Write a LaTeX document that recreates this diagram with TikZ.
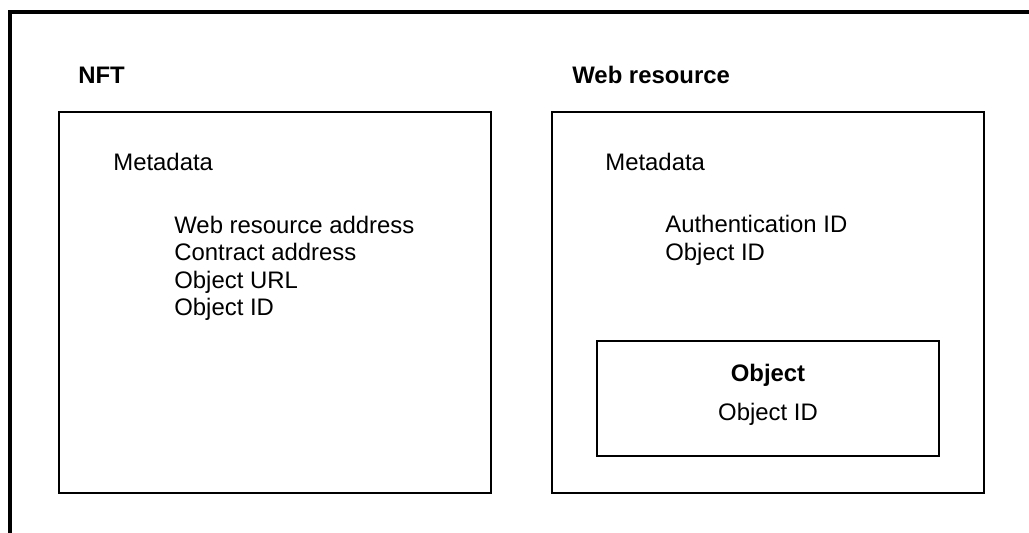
\documentclass[tikz,border=0pt]{standalone}
\usepackage{fontspec}
\setmainfont{Liberation Sans}
\usepackage{tikz}
\usetikzlibrary{positioning}

\begin{document}
\begin{tikzpicture}[x=0.02cm,y=-0.02cm,
    txt/.style={anchor=base west,inner sep=0pt,font=\fontsize{13.6}{16}\selectfont},
    hdr/.style={txt,font=\fontsize{13.6}{16}\selectfont\bfseries},
    panel/.style={draw,line width=0.9pt}]
        \useasboundingbox(0,0)rectangle(1029,533);
        % outer frame, cut at the right and bottom edges
        \draw[line width=2.3pt](10,540)--(10,12)--(1040,12);
        % the two panels and the inner object box
        \draw[panel](59,112)rectangle(491,493);
        \draw[panel](552,112)rectangle(984,493);
        \draw[panel](597,341)rectangle(939,456);
        \node[hdr](nft)at(78,84){NFT};
        \node[hdr](web)at(572,84){Web resource};
        \node[txt](nftmeta)at(113,171){Metadata};
        \node[txt](webmeta)at(605,171){Metadata};
        \foreach \y/\lbl in {234/Web resource address,261/Contract address,
            289/Object URL,316/Object ID}{
          \node[txt]at(174,\y){\lbl};}
        \node[txt](auth)at(665,233){Authentication ID};
        \node[txt](webid)at(665,261){Object ID};
        \node[hdr,anchor=base](obj)at(768,382){Object};
        \node[txt,anchor=base](objid)at(768,421){Object ID};
      \end{tikzpicture}
\end{document}
